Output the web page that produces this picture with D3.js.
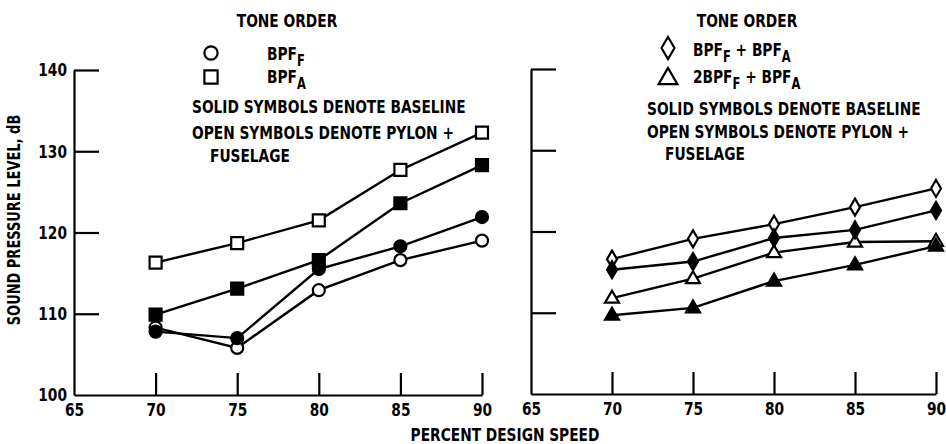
<!DOCTYPE html>
<html>
<head>
<meta charset="utf-8">
<script src="https://cdn.jsdelivr.net/npm/d3@7"></script>
<style>
  html, body { margin: 0; padding: 0; background: #fff; }
  svg { display: block; }
  text { font-family: "DejaVu Sans Condensed", "DejaVu Sans", sans-serif; font-weight: bold; fill: #000; }
</style>
</head>
<body>
<svg id="chart" width="946" height="444"></svg>
<script>
// Percent design speed (x) and tone levels in dB (y)
const speeds = [70, 75, 80, 85, 90];
const xTicks = [65, 70, 75, 80, 85, 90];
const yTicks = [100, 110, 120, 130, 140];

// Left panel: blade passage frequency tones
const bpfFPylon = [108.3, 105.8, 112.9, 116.6, 119.0];
const bpfFBase  = [107.8, 107.0, 115.5, 118.3, 121.9];
const bpfAPylon = [116.3, 118.7, 121.5, 127.7, 132.3];
const bpfABase  = [109.9, 113.1, 116.6, 123.6, 128.3];

// Right panel: interaction tones
const sumPylon = [116.6, 119.1, 120.9, 123.0, 125.3];
const sumBase  = [115.3, 116.3, 119.2, 120.2, 122.6];
const twoPylon = [111.8, 114.2, 117.4, 118.7, 118.8];
const twoBase  = [109.7, 110.6, 113.9, 115.9, 118.2];

const svg = d3.select("#chart");
const INK = "#000";

// Custom symbol shapes (width/height in px)
const shapes = {
  circle:   (c, w) => { c.moveTo(w / 2, 0); c.arc(0, 0, w / 2, 0, 2 * Math.PI); c.closePath(); },
  square:   (c, w) => { c.rect(-w / 2, -w / 2, w, w); },
  diamond:  (c, w, h) => { c.moveTo(0, -h / 2); c.lineTo(w / 2, 0); c.lineTo(0, h / 2); c.lineTo(-w / 2, 0); c.closePath(); },
  triangle: (c, w, h) => { c.moveTo(0, -h * 0.62); c.lineTo(w / 2, h * 0.38); c.lineTo(-w / 2, h * 0.38); c.closePath(); }
};
const dims = { circle: [12, 12], square: [12, 12], diamond: [10, 17], triangle: [14, 12] };

function markerPath(shape, scale = 1) {
  const [w, h] = dims[shape];
  return d3.symbol().type({ draw: (c) => shapes[shape](c, w * scale, h * scale) })();
}

const NARROW = 0.85;

function panel(opts) {
  const x = d3.scaleLinear().domain([65, 90]).range(opts.xRange);
  const y = d3.scaleLinear().domain([100, 140]).range(opts.yRange);
  const g = svg.append("g");

  // y axis: ticks point into the plot
  const yAxis = d3.axisLeft(y).tickValues(yTicks).tickSizeInner(-25).tickSizeOuter(0).tickPadding(7)
    .tickFormat(opts.yLabels ? d3.format("d") : () => "");
  const ya = g.append("g").attr("transform", `translate(${opts.xRange[0]},0)`).call(yAxis);
  ya.select(".domain").attr("stroke-width", 2.2);
  ya.selectAll(".tick line").attr("stroke-width", 2.2).filter(d => d === 100).remove();
  ya.selectAll(".tick text").attr("font-size", 18).attr("class", "lbl");

  // x axis: ticks rise from the baseline
  const xAxis = d3.axisBottom(x).tickValues(xTicks).tickSizeInner(-22).tickSizeOuter(0).tickPadding(8)
    .tickFormat(d3.format("d"));
  const xa = g.append("g").attr("transform", `translate(0,${opts.yRange[0]})`).call(xAxis);
  xa.select(".domain").attr("stroke-width", 2.2);
  xa.selectAll(".tick line").attr("stroke-width", 2.2).filter(d => d === 65).remove();
  xa.selectAll(".tick text").attr("font-size", 18).attr("class", "lbl");

  const line = d3.line().x((d, i) => x(speeds[i])).y(d => y(d));
  opts.series.forEach(s => {
    g.append("path").datum(s.values).attr("d", line)
      .attr("fill", "none").attr("stroke", INK).attr("stroke-width", 2.4);
  });
  opts.series.forEach(s => {
    g.selectAll(null).data(s.values).enter().append("path")
      .attr("d", markerPath(s.shape))
      .attr("transform", (d, i) => `translate(${x(speeds[i])},${y(d)})`)
      .attr("fill", s.filled ? INK : "#fff")
      .attr("stroke", INK).attr("stroke-width", 2.2);
  });
}

panel({
  xRange: [74, 482], yRange: [395, 70], yLabels: true,
  series: [
    { values: bpfFPylon, shape: "circle", filled: false },
    { values: bpfAPylon, shape: "square", filled: false },
    { values: bpfFBase, shape: "circle", filled: true },
    { values: bpfABase, shape: "square", filled: true }
  ]
});

panel({
  xRange: [531, 936], yRange: [394, 69], yLabels: false,
  series: [
    { values: sumPylon, shape: "diamond", filled: false },
    { values: twoPylon, shape: "triangle", filled: false },
    { values: sumBase, shape: "diamond", filled: true },
    { values: twoBase, shape: "triangle", filled: true }
  ]
});

// Text helper: parts are [string, isSubscript]
function label(xp, yp, parts, size, anchor = "start", rotate = 0) {
  const t = svg.append("text").attr("font-size", size).attr("text-anchor", anchor)
    .attr("transform", `translate(${xp},${yp}) rotate(${rotate}) scale(${NARROW},1)`);
  let shifted = false;
  parts.forEach(p => {
    const [str, sub] = Array.isArray(p) ? p : [p, false];
    const ts = t.append("tspan").text(str);
    if (sub) ts.attr("font-size", size - 3);
    if (sub && !shifted) { ts.attr("dy", 6); shifted = true; }
    else if (!sub && shifted) { ts.attr("dy", -6); shifted = false; }
  });
  return t;
}

// Compress tick labels to the same narrow lettering
svg.selectAll("text.lbl").each(function () {
  const el = d3.select(this);
  el.attr("transform", `scale(${NARROW},1)`)
    .attr("x", (+el.attr("x") || 0) / NARROW);
});

// Axis titles
label(20, 220, ["SOUND PRESSURE LEVEL, dB"], 17, "middle", -90);
label(505, 441, ["PERCENT DESIGN SPEED"], 18, "middle");

// Left legend
label(287, 27, ["TONE ORDER"], 18, "middle");
svg.append("path").attr("d", markerPath("circle", 1.1)).attr("transform", "translate(211,53)")
  .attr("fill", "#fff").attr("stroke", INK).attr("stroke-width", 2.2);
label(267, 60, ["BPF", ["F", true]], 18);
svg.append("path").attr("d", markerPath("square", 1.1)).attr("transform", "translate(211,77)")
  .attr("fill", "#fff").attr("stroke", INK).attr("stroke-width", 2.2);
label(267, 83, ["BPF", ["A", true]], 18);
label(192, 113, ["SOLID SYMBOLS DENOTE BASELINE"], 18);
label(192, 139, ["OPEN SYMBOLS DENOTE PYLON +"], 18);
label(210, 162, ["FUSELAGE"], 18);

// Right legend
label(747, 27, ["TONE ORDER"], 18, "middle");
svg.append("path").attr("d", markerPath("diamond", 1.3)).attr("transform", "translate(668,48)")
  .attr("fill", "#fff").attr("stroke", INK).attr("stroke-width", 2.2);
label(693, 56, ["BPF", ["F", true], " + BPF", ["A", true]], 18);
svg.append("path").attr("d", markerPath("triangle", 1.35)).attr("transform", "translate(668,78)")
  .attr("fill", "#fff").attr("stroke", INK).attr("stroke-width", 2.2);
label(693, 83, ["2BPF", ["F", true], " + BPF", ["A", true]], 18);
label(647, 115, ["SOLID SYMBOLS DENOTE BASELINE"], 18);
label(647, 138, ["OPEN SYMBOLS DENOTE PYLON +"], 18);
label(665, 160, ["FUSELAGE"], 18);
</script>
</body>
</html>
